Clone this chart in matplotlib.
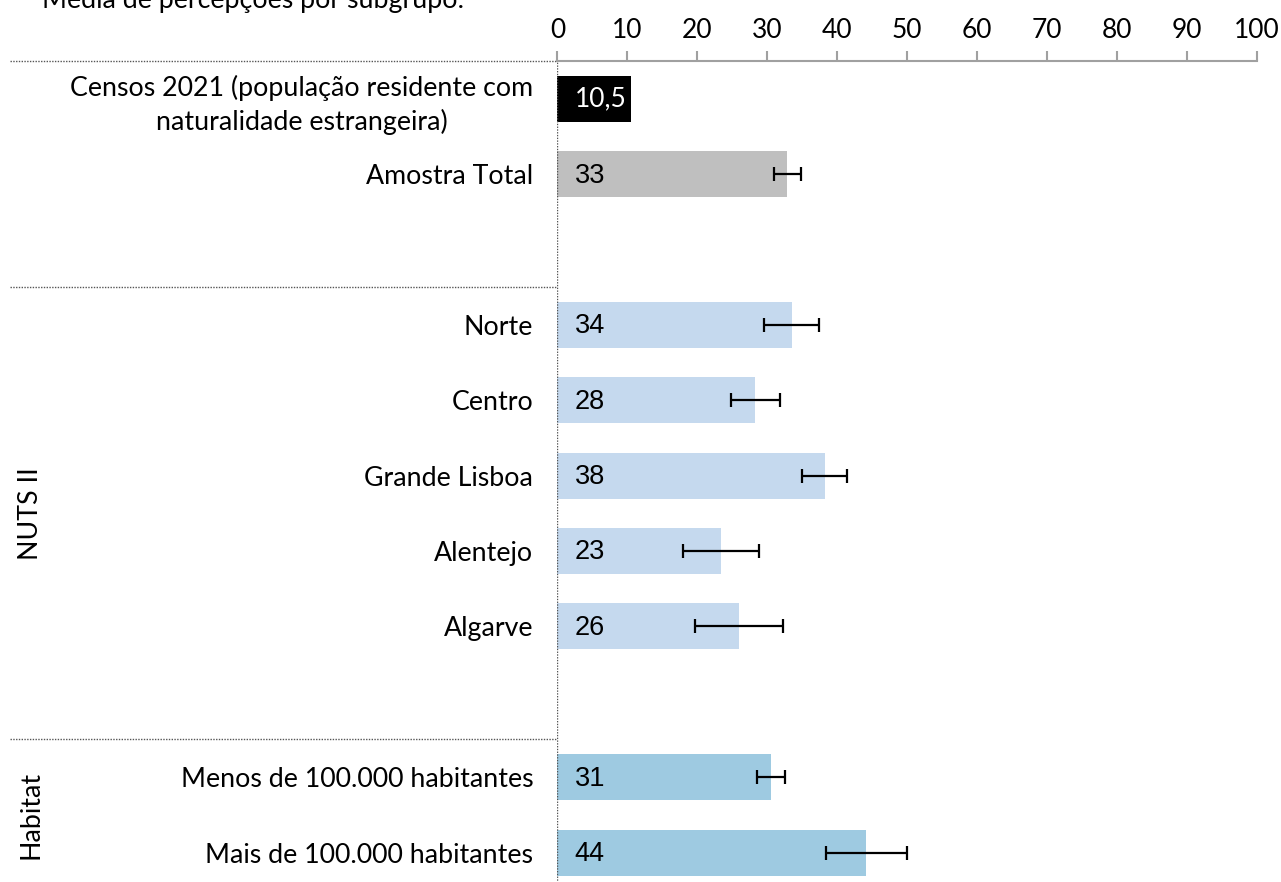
"""
Média de percepções por subgrupo - barras horizontais
"""
import matplotlib
matplotlib.use("Agg")
import matplotlib.pyplot as plt
import matplotlib.transforms as mtransforms

labels = ["Censos 2021 (população residente com\nnaturalidade estrangeira)",
          "Amostra Total",
          "Norte", "Centro", "Grande Lisboa", "Alentejo", "Algarve",
          "Menos de 100.000 habitantes", "Mais de 100.000 habitantes"]
values = [10.5, 32.9, 33.5, 28.3, 38.2, 23.4, 26.0, 30.6, 44.2]
value_text = ["10,5", "33", "34", "28", "38", "23", "26", "31", "44"]
errors = [None, 1.9, 3.9, 3.5, 3.2, 5.4, 6.3, 2.0, 5.8]
slots = [0, 1, 3, 4, 5, 6, 7, 9, 10]
colors = ["#000000", "#bfbfbf",
          "#c5d9ee", "#c5d9ee", "#c5d9ee", "#c5d9ee", "#c5d9ee",
          "#9ecae1", "#9ecae1"]
groups = ["NUTS II", "Habitat"]
group_centers = [5.5, 9.5]
ticks = list(range(0, 101, 10))

plt.rcParams['font.family'] = ['Lato', 'DejaVu Sans']

fig = plt.figure(figsize=(12.81, 8.82), dpi=100)
ax = fig.add_axes([0.4352, -0.0093, 0.5457, 0.940])

ax.barh(slots, values, height=0.61, color=colors)
for s, v, e in zip(slots, values, errors):
    if e is not None:
        ax.errorbar(v, s, xerr=e, fmt='none', ecolor='black',
                    elinewidth=1.6, capsize=5, capthick=1.6)

for s, t, c in zip(slots, value_text, colors):
    if c == "#000000":
        ax.annotate(t, (0, s), xytext=(12.5, 0), textcoords='offset points',
                    va='center', ha='left', fontsize=19, color='white')
    else:
        ax.annotate(t, (0, s), xytext=(12.5, -1), textcoords='offset points',
                    va='center', ha='left', fontsize=19.5, color='black',
                    family=['Liberation Sans', 'DejaVu Sans'])

ax.set_xlim(0, 100)
ax.set_ylim(10.5, -0.5)
ax.xaxis.tick_top()
ax.set_xticks(ticks)
ax.tick_params(axis='x', direction='out', length=7, width=1.5,
               color='#a0a0a0', labelsize=19, pad=6)
ax.set_yticks(slots)
ax.set_yticklabels(labels)
ax.tick_params(axis='y', length=0, labelsize=19.3, pad=17.5)
censos = ax.get_yticklabels()[0]
censos.set_multialignment('center')
censos.set_linespacing(1.35)

for side in ['right', 'bottom', 'left']:
    ax.spines[side].set_visible(False)
ax.spines['top'].set_color('#a0a0a0')
ax.spines['top'].set_linewidth(1.5)

ax.axvline(0, color='#555555', linestyle=(0, (1, 1)), linewidth=1)

# separadores pontilhados
trans = mtransforms.blended_transform_factory(fig.transFigure, ax.transData)
for y in [-0.5, 2.5, 8.5]:
    ax.plot([0.008, 0.4352], [y, y], transform=trans, clip_on=False,
            color='#555555', linestyle=(0, (1, 1)), linewidth=1)

for g, yc in zip(groups, group_centers):
    ax.text(0.024, yc, g, transform=trans, rotation=90,
            ha='center', va='center', fontsize=19.3)

fig.text(0.033, 0.991, "Média de percepções por subgrupo:",
         ha='left', va='baseline', fontsize=19.3)

fig.savefig("out.png", dpi=100)
